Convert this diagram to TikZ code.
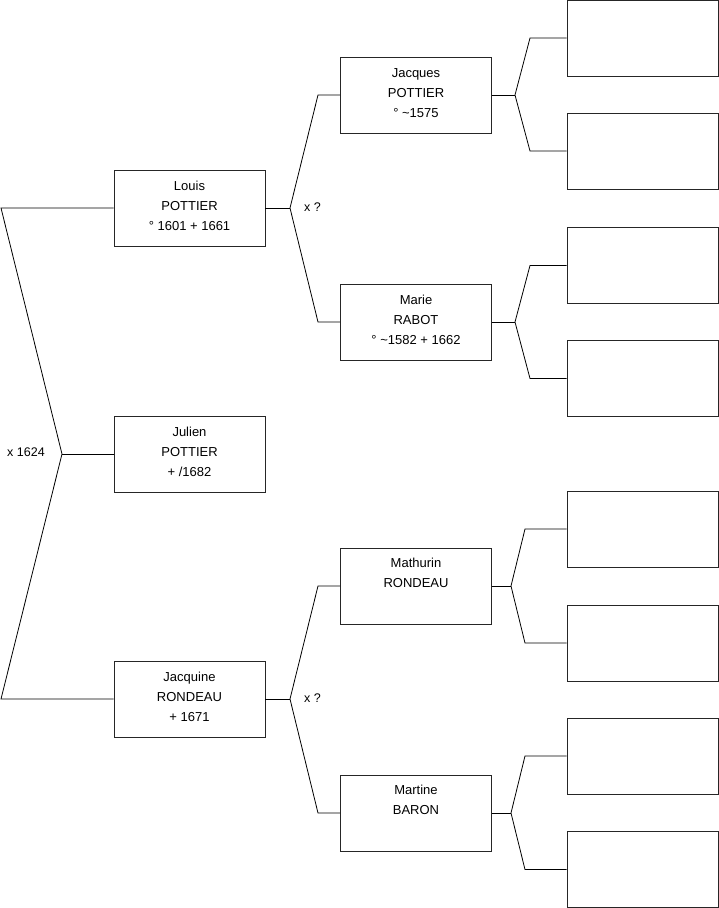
\documentclass[tikz,border=0pt]{standalone}
\usepackage{fontspec}
\setmainfont{Liberation Sans}
\begin{document}
\begin{tikzpicture}[x=1pt,y=-1pt,
  person/.style={draw=black!85, line width=0.9pt, minimum width=151pt, minimum height=76pt, inner sep=0pt, align=center, font=\fontsize{13}{20}\selectfont, execute at end node={\rule[-4pt]{0pt}{4pt}}},
  link/.style={draw=black, line width=0.8pt},
  lbl/.style={font=\fontsize{12.5}{14}\selectfont, inner sep=0pt}]
\useasboundingbox (0,0) rectangle (719,908);
% generation 1
\node[person] (louis) at (189.5,208) {Louis\\POTTIER\\° 1601 + 1661};
\node[person] (julien) at (189.5,454) {Julien\\POTTIER\\+ /1682};
\node[person] (jacquine) at (189.5,699) {Jacquine\\RONDEAU\\+ 1671};
% generation 2
\node[person] (jacques) at (416,95) {Jacques\\POTTIER\\° \textasciitilde1575};
\node[person] (marie) at (416,322) {Marie\\RABOT\\° \textasciitilde1582 + 1662};
\node[person] (mathurin) at (416,586) {Mathurin\\RONDEAU\\\strut};
\node[person] (martine) at (416,813) {Martine\\BARON\\\strut};
% generation 3
\node[person] (r1) at (642.5,38) {};
\node[person] (r2) at (642.5,151) {};
\node[person] (r3) at (642.5,265.5) {};
\node[person] (r4) at (642.5,378.5) {};
\node[person] (r5) at (642.5,529) {};
\node[person] (r6) at (642.5,643) {};
\node[person] (r7) at (642.5,756) {};
\node[person] (r8) at (642.5,869.5) {};
% fork coordinates
\coordinate (fA) at (62,454);
\coordinate (fAt) at (1,208);
\coordinate (fAb) at (1,699);
\coordinate (fB) at (290,208);
\coordinate (fBt) at (318,95);
\coordinate (fBb) at (318,322);
\coordinate (fC) at (290,699);
\coordinate (fCt) at (318,586);
\coordinate (fCb) at (318,813);
\coordinate (fD) at (515,95);
\coordinate (fDt) at (530,38);
\coordinate (fDb) at (530,151);
\coordinate (fE) at (515,322);
\coordinate (fEt) at (530,265.5);
\coordinate (fEb) at (530,378.5);
\coordinate (fF) at (511,586);
\coordinate (fFt) at (525,529);
\coordinate (fFb) at (525,643);
\coordinate (fG) at (511,813);
\coordinate (fGt) at (525,756);
\coordinate (fGb) at (525,869.5);
% links
\draw[link] (julien.west) -- (fA);
\draw[link] (louis.west) -- (fAt) -- (fA) -- (fAb) -- (jacquine.west);
\draw[link] (louis.east) -- (fB);
\draw[link] (jacques.west) -- (fBt) -- (fB) -- (fBb) -- (marie.west);
\draw[link] (jacquine.east) -- (fC);
\draw[link] (mathurin.west) -- (fCt) -- (fC) -- (fCb) -- (martine.west);
\draw[link] (jacques.east) -- (fD);
\draw[link] (r1.west) -- (fDt) -- (fD) -- (fDb) -- (r2.west);
\draw[link] (marie.east) -- (fE);
\draw[link] (r3.west) -- (fEt) -- (fE) -- (fEb) -- (r4.west);
\draw[link] (mathurin.east) -- (fF);
\draw[link] (r5.west) -- (fFt) -- (fF) -- (fFb) -- (r6.west);
\draw[link] (martine.east) -- (fG);
\draw[link] (r7.west) -- (fGt) -- (fG) -- (fGb) -- (r8.west);
% labels
\node[lbl, anchor=west] (m1) at (7,452) {x 1624};
\node[lbl, anchor=west] (m2) at (304,207) {x ?};
\node[lbl, anchor=west] (m3) at (304,698) {x ?};
\end{tikzpicture}
\end{document}
